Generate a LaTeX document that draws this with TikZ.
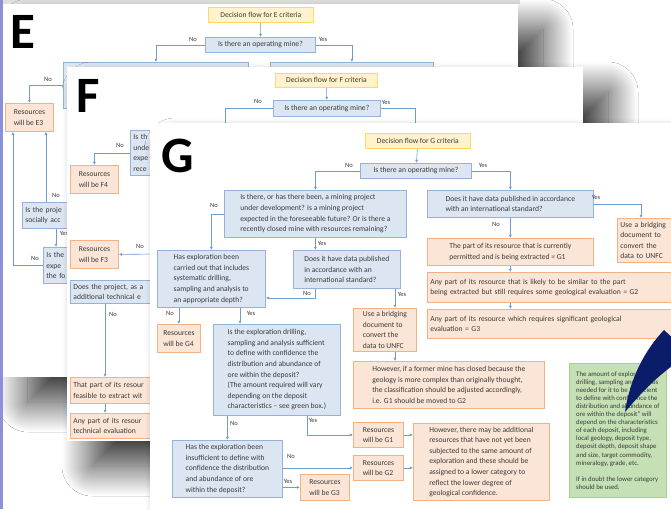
\documentclass[tikz,border=0pt]{standalone}
\usepackage{fontspec}
\setmainfont{Carlito}
\usetikzlibrary{arrows.meta, positioning, shadows.blur}
\definecolor{bfill}{HTML}{DCE6F2}
\definecolor{bdraw}{HTML}{95B3D7}
\definecolor{ofill}{HTML}{FBE5D6}
\definecolor{odraw}{HTML}{F4B183}
\definecolor{yfill}{HTML}{FFF2CC}
\definecolor{ydraw}{HTML}{FFD966}
\definecolor{gfill}{HTML}{C5E0B4}
\definecolor{gdraw}{HTML}{A9D18E}
\definecolor{cline}{HTML}{6E9BD1}
\definecolor{ctext}{HTML}{3A3A3A}
\definecolor{cnavy}{HTML}{0B1C6B}
\definecolor{clav}{HTML}{8C90D8}
\tikzset{
  every picture/.style={x=1pt, y=-1pt},
  card/.style 2 args={draw=#1, fill=#2, line width=0.8pt, anchor=north west, align=left, inner sep=3pt, text=ctext, font=\fontsize{7.6}{10.6}\selectfont},
  bluebox/.style={card={bdraw}{bfill}},
  orangebox/.style={card={odraw}{ofill}},
  yellowbox/.style={card={ydraw}{yfill}},
  greenbox/.style={card={gdraw}{gfill}, font=\fontsize{6.8}{8.1}\selectfont},
  sz/.style 2 args={minimum width=#1pt, minimum height=#2pt},
  szl/.style 2 args={sz={#1}{#2}, /utils/exec={\pgfmathsetmacro\boxtw{#1-6}}, text width=\boxtw pt},
  conn/.style={draw=cline, line width=0.6pt, -{Latex[length=3.2pt, width=3pt]}},
  lbl/.style={font=\fontsize{6.5}{7}\selectfont, text=ctext, inner sep=0pt},
  bigl/.style={font=\fontsize{51}{51}\selectfont\bfseries, text=black, inner sep=0pt, anchor=base},
  page/.style={fill=white, blur shadow={shadow xshift=25pt, shadow yshift=-25pt, shadow blur radius=30pt, shadow blur steps=40, shadow opacity=80}},
}

\begin{document}
\begin{tikzpicture}
  \useasboundingbox (0,0) rectangle (671,509);
  \clip (0,0) rectangle (671,509);
  \fill[white] (0,0) rectangle (671,509);
  \fill[gray!25] (3,0) rectangle (520,4);

  % page E (back)
  \path[page] (3,4) rectangle (518,377);
  \node[bigl] (bigE) at (23,48) {E};
  \node[yellowbox, sz={105}{15}] (e-title) at (208,7) {Decision flow for E criteria};
  \node[bluebox, sz={110}{15}] (e-mine) at (205,37) {Is there an operating mine?};
  \node[bluebox, sz={185}{46}] (e-dev) at (63,62) {};
  \node[bluebox, sz={163}{40}] (e-right) at (270,62) {};
  \node[orangebox, sz={48}{28}] (e3) at (5,103) {Resources\\will be E3};
  \node[bluebox, szl={98}{26}] (e-proj) at (22,202) {Is the proje\\socially acc};
  \node[bluebox, szl={77}{36}] (e-exp) at (43,247) {Is the\\expe\\the fo};
  \coordinate (e-c1) at (46,0);
  \coordinate (e-c2) at (56,0);
  \coordinate (e-c3) at (13,0);
  \draw[conn] (e-title) -- (e-mine);
  \draw[conn] (e-mine.west) -| (e-dev.north);
  \draw[conn] (e-mine.east) -| (e-right.north);
  \draw[conn] (e-dev.west) -| (e3.north);
  \draw[conn] (e-proj.north -| e-c1) -- (e3.south -| e-c1);
  \draw[conn] (e-exp.west) -| (e3.south -| e-c3);
  \draw[conn] (e-proj.south -| e-c2) -- (e-exp.north -| e-c2);
  \foreach \n/\x/\y/\t in {e1/193/39/No, e2/323/39/Yes, e3/48/79/No, e4/56/195/No, e5/35/258/No, e6/64/233/Yes}
    \node[lbl] (lbl-\n) at (\x,\y) {\t};

  % page F (middle)
  \path[page] (67,67) rectangle (583,441);
  \node[bigl] (bigF) at (88,112) {F};
  \node[yellowbox, sz={102}{14}] (f-title) at (275,73) {Decision flow for F criteria};
  \node[bluebox, sz={107}{16}] (f-mine) at (273,100) {Is there an operating mine?};
  \node[bluebox, szl={190}{45}] (f-dev) at (130,130) {Is th\\unde\\expe\\rece};
  \node[orangebox, sz={48}{28}] (f4) at (70,165) {Resources\\will be F4};
  \node[orangebox, sz={48}{28}] (f3) at (70,240) {Resources\\will be F3};
  \node[bluebox, szl={130}{23}] (f-does) at (70,280) {Does the project, as a\\additional technical e};
  \node[orangebox, szl={130}{26}] (f-part) at (70,377) {That part of its resour\\feasible to extract wit};
  \node[orangebox, szl={130}{25}] (f-any) at (70,413) {Any part of its resour\\technical evaluation};
  \coordinate (f-yes) at (415,130);
  \coordinate (f-hid) at (160,254);
  \coordinate (f-c1) at (105,0);
  \draw[conn] (f-title) -- (f-mine);
  \draw[conn] (f-mine.west) -| (f-dev.north);
  \draw[conn] (f-mine.east) -| (f-yes);
  \draw[conn] (f-dev.west) -| (f4.north);
  \draw[conn] (f-hid) -- (f3.east);
  \draw[conn] (f-does.south -| f-c1) -- (f-part.north -| f-c1);
  \draw[conn] (f-part.south -| f-c1) -- (f-any.north -| f-c1);
  \foreach \n/\x/\y/\t in {f1/258/101/No, f2/386/102/Yes, f3/120/145/No, f4/140/246/No, f5/113/314/No}
    \node[lbl] (lbl-\n) at (\x,\y) {\t};

  % page G (front)
  \path[page] (150,123) rectangle (700,530);
  \node[bigl] (bigG) at (178,172) {G};
  \node[yellowbox, sz={105}{15}] (g-title) at (365,133) {Decision flow for G criteria};
  \node[bluebox, sz={111}{15}] (g-mine) at (360,163) {Is there an operating mine?};
  \node[bluebox, sz={182}{47}] (g-dev) at (224,190) {Is there, or has there been, a mining project\\under development? Is a mining project\\expected in the foreseeable future? Or is there a\\recently closed mine with resources remaining?};
  \node[bluebox, sz={166}{27}] (g-data) at (427,190) {Does it have data published in accordance\\with an international standard?};
  \node[orangebox, sz={166}{27}] (g-ext) at (427,238) {The part of its resource that is currently\\permitted and is being extracted = G1};
  \node[orangebox, szl={56}{44}] (g-brA) at (617,218) {Use a bridging\\document to\\convert the\\data to UNFC};
  \node[orangebox, szl={253}{30}] (g-sim) at (427,272) {Any part of its resource that is likely to be similar to the part\\being extracted but still requires some geological evaluation = G2};
  \node[orangebox, szl={253}{29}] (g-sig) at (427,309) {Any part of its resource which requires significant geological\\evaluation = G3};
  \node[bluebox, sz={108}{57}] (g-has) at (157,250) {Has exploration been\\carried out that includes\\systematic drilling,\\sampling and analysis to\\an appropriate depth?};
  \node[bluebox, sz={107}{38}] (g-pub) at (293,250) {Does it have data published\\in accordance with an\\international standard?};
  \node[orangebox, sz={63}{42}] (g-brB) at (353,308) {Use a bridging\\document to\\convert the\\data to UNFC};
  \node[orangebox, sz={191}{47}] (g-how1) at (353,361) {However, if a former mine has closed because the\\geology is more complex than originally thought,\\the classification should be adjusted accordingly,\\i.e. G1 should be moved to G2};
  \node[orangebox, sz={43}{28}] (g-g4) at (157,324) {Resources\\will be G4};
  \node[bluebox, sz={127}{91}] (g-suf) at (213,324) {Is the exploration drilling,\\sampling and analysis sufficient\\to define with confidence the\\distribution and abundance of\\ore within the deposit?\\(The amount required will vary\\depending on the deposit\\characteristics -- see green box.)};
  \node[bluebox, sz={110}{57}] (g-ins) at (172,440) {Has the exploration been\\insufficient to define with\\confidence the distribution\\and abundance of ore\\within the deposit?};
  \node[orangebox, sz={50}{25}] (g-g1) at (353,422) {Resources\\will be G1};
  \node[orangebox, sz={50}{25}] (g-g2) at (353,455) {Resources\\will be G2};
  \node[orangebox, sz={49}{26}] (g-g3) at (300,474) {Resources\\will be G3};
  \node[orangebox, sz={136}{77}] (g-how2) at (413,423) {However, there may be additional\\resources that have not yet been\\subjected to the same amount of\\exploration and these should be\\assigned to a lower category to\\reflect the lower degree of\\geological confidence.};
  \node[greenbox, sz={97}{134}] (g-green) at (569,363) {The amount of exploration\\drilling, sampling and analysis\\needed for it to be ``sufficient\\to define with confidence the\\distribution and abundance of\\ore within the deposit'' will\\depend on the characteristics\\of each deposit, including\\local geology, deposit type,\\deposit depth, deposit shape\\and size, target commodity,\\mineralogy, grade, etc.\\[8.1pt]If in doubt the lower category\\should be used.};
  \coordinate (g-c3) at (395,0);
  \coordinate (g-c5) at (240,0);
  \coordinate (g-c7) at (307,0);
  \coordinate (g-c8) at (641,0);
  \draw[conn] (g-title) -- (g-mine);
  \draw[conn] (g-mine.west) -| (g-dev.north);
  \draw[conn] (g-mine.east) -| (g-data.north);
  \draw[conn] (g-data.east) -| (g-brA.north -| g-c8);
  \draw[conn] (g-data) -- (g-ext);
  \draw[conn] (g-ext.south) -- (g-ext.south |- g-sim.north);
  \draw[conn] (g-sim.south -| g-ext.south) -- (g-sig.north -| g-ext.south);
  \draw[conn] (g-dev.west) -| (g-has.north);
  \draw[conn] (g-dev.south) -- (g-dev.south |- g-pub.north);
  \draw[conn] (g-pub.south -| g-dev.south) |- ([yshift=-19pt]g-has.east);
  \draw[conn] (g-pub.south -| g-c3) -- (g-brB.north -| g-c3);
  \draw[conn] (g-brB.south -| g-c3) -- (g-how1.north -| g-c3);
  \draw[conn] (g-has.south -| g-g4.north) -- (g-g4.north);
  \draw[conn] (g-has.south -| g-c5) -- (g-suf.north -| g-c5);
  \draw[conn] (g-suf.south -| g-ins.north) -- (g-ins.north);
  \draw[conn] (g-suf.south -| g-c7) |- (g-g1.west);
  \draw[conn] (g-ins.east |- g-g2.west) -- (g-g2.west);
  \draw[conn] (g-ins.east |- g-g3.west) -- (g-g3.west);
  \draw[conn] (g-g1.east) -- (g-g1.east -| g-how2.west);
  \draw[conn] (g-g2.east) -- (g-g2.east -| g-how2.west);
  \foreach \n/\x/\y/\t in {g1/349/165/No, g2/483/165/Yes, g3/214/205/No, g4/322/243/Yes, g5/596/197/Yes, g6/496/224/No, g7/307/293/No, g8/402/294/Yes, g9/170/313/No, g10/251/313/Yes, g11/234/423/No, g12/313/420/Yes, g13/291/456/No, g14/288/481/Yes}
    \node[lbl] (lbl-\n) at (\x,\y) {\t};

  % pointer onto the green box
  \fill[cnavy] (664,330) .. controls (645,350) and (630,378) .. (625,412) .. controls (642,392) and (660,372) .. (690,354) -- cycle;
  \fill[clav] (0,0) rectangle (2.5,509);
\end{tikzpicture}
\end{document}
